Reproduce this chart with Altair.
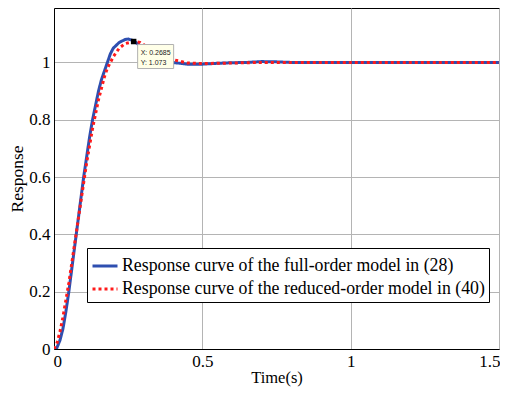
import altair as alt
import pandas as pd

# Full-order model (28) step response
t_full = [0, 0.01, 0.02, 0.03, 0.04, 0.05, 0.06, 0.07, 0.08, 0.09, 0.10, 0.11, 0.12, 0.13,
          0.14, 0.15, 0.16, 0.17, 0.18, 0.19, 0.20, 0.22, 0.24, 0.25, 0.27, 0.30, 0.33,
          0.36, 0.40, 0.45, 0.50, 0.55, 0.60, 0.65, 0.70, 0.75, 0.80, 1.0, 1.5]
y_full = [0, 0.005, 0.03, 0.07, 0.13, 0.20, 0.28, 0.36, 0.44, 0.52, 0.60, 0.67, 0.74, 0.80,
          0.85, 0.90, 0.94, 0.97, 1.00, 1.03, 1.05, 1.07, 1.08, 1.082, 1.075, 1.05, 1.025,
          1.01, 1.0, 0.994, 0.994, 0.997, 0.999, 1.0, 1.003, 1.002, 1.0, 1.0, 1.0]

# Reduced-order model (40) step response
t_red = [0, 0.01, 0.02, 0.03, 0.04, 0.05, 0.06, 0.07, 0.08, 0.09, 0.10, 0.11, 0.12, 0.13,
         0.14, 0.15, 0.16, 0.17, 0.18, 0.19, 0.20, 0.22, 0.24, 0.2685, 0.29, 0.32, 0.35,
         0.40, 0.45, 0.50, 0.60, 0.70, 1.5]
y_red = [0, 0.02, 0.06, 0.11, 0.17, 0.23, 0.30, 0.37, 0.44, 0.51, 0.58, 0.65, 0.71, 0.77,
         0.82, 0.87, 0.91, 0.95, 0.98, 1.00, 1.02, 1.05, 1.066, 1.073, 1.07, 1.05, 1.03,
         1.01, 0.998, 0.996, 0.998, 1.0, 1.0]

series_names = ["Response curve of the full-order model in (28)",
                "Response curve of the reduced-order model in (40)"]

tip_x = [0.2685]
tip_y = [1.073]
tip_lines = ["X: 0.2685", "Y: 1.073"]

x_ticks = [0, 0.5, 1, 1.5]
y_ticks = [0, 0.2, 0.4, 0.6, 0.8, 1]

rows = []
for t, y in zip(t_full, y_full):
    rows.append({"t": t, "y": y, "s": series_names[0]})
for t, y in zip(t_red, y_red):
    rows.append({"t": t, "y": y, "s": series_names[1]})
df = pd.DataFrame(rows)

serif = "Liberation Serif, Times New Roman, serif"

xs = alt.Scale(domain=[0, 1.5], nice=False, zero=False)
ys = alt.Scale(domain=[0, 1.19], nice=False)

x_axis = alt.Axis(values=x_ticks, format="~g", title="Time(s)", grid=True, ticks=False,
                  labelFont=serif, labelFontSize=17, labelColor="black", labelPadding=4,
                  titleFont=serif, titleFontSize=16.5, titleFontWeight="normal", titleColor="black",
                  titlePadding=0, domainColor="black", labelFlush=True, labelFlushOffset=1)
y_axis = alt.Axis(values=y_ticks, format="~g", title="Response", grid=True, ticks=False,
                  labelFont=serif, labelFontSize=17, labelColor="black", labelPadding=4,
                  titleFont=serif, titleFontSize=17.5, titleFontWeight="normal", titleColor="black",
                  titlePadding=2, domainColor="black", labelFlush=False)

lines = alt.Chart(df).mark_line(strokeWidth=3, clip=True).encode(
    x=alt.X("t:Q", scale=xs, axis=x_axis),
    y=alt.Y("y:Q", scale=ys, axis=y_axis),
    color=alt.Color("s:N", scale=alt.Scale(domain=series_names, range=["#2e4fb0", "#ff1a1a"]),
                    legend=alt.Legend(title=None)),
    strokeDash=alt.StrokeDash("s:N", scale=alt.Scale(domain=series_names, range=[[1, 0], [3, 3]]),
                              legend=alt.Legend(title=None)),
    order=alt.Order("t:Q"),
)

tip_df = pd.DataFrame({"t": tip_x, "y": tip_y})
tip_box = alt.Chart(tip_df).mark_rect(fill="#ffffe8", stroke="#b0b0b0", strokeWidth=1,
                                      xOffset=4, x2Offset=40, yOffset=3, y2Offset=27).encode(
    x="t:Q", x2="t:Q", y="y:Q", y2="y:Q")
tip_pt = alt.Chart(tip_df).mark_square(size=30, color="black", opacity=1).encode(x="t:Q", y="y:Q")
txt_df = pd.DataFrame({"t": tip_x * 2, "y": tip_y * 2, "txt": tip_lines})
tip_t1 = alt.Chart(txt_df.iloc[[0]]).mark_text(align="left", baseline="middle", dx=7, dy=11,
                                               fontSize=7, font="Liberation Sans", color="#222").encode(
    x="t:Q", y="y:Q", text="txt:N")
tip_t2 = alt.Chart(txt_df.iloc[[1]]).mark_text(align="left", baseline="middle", dx=7, dy=21,
                                               fontSize=7, font="Liberation Sans", color="#222").encode(
    x="t:Q", y="y:Q", text="txt:N")

chart = alt.layer(lines, tip_box, tip_pt, tip_t1, tip_t2).properties(
    width=445, height=341,
    autosize=alt.AutoSizeParams(type="none"),
    padding={"left": 46, "top": 0, "right": 1, "bottom": 38},
).configure_view(stroke="black", strokeWidth=1).configure_axis(
    gridColor="#b4b4b4", gridWidth=1, gridOpacity=1
).configure_legend(
    orient="none", legendX=33, legendY=240,
    symbolType="stroke", symbolSize=625, symbolStrokeWidth=3,
    labelFont=serif, labelFontSize=17.8, labelColor="black", labelLimit=600,
    strokeColor="black", fillColor="white", padding=4, rowPadding=0, labelOffset=3,
)

chart.save("out.html", embed_options={"renderer": "svg", "actions": False})
